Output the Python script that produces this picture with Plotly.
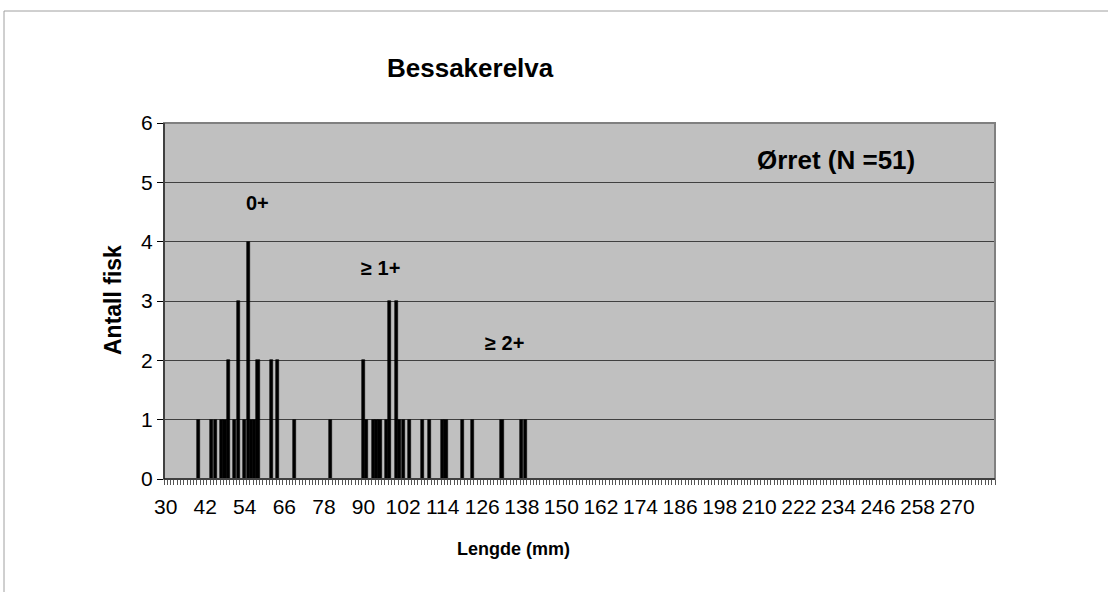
import plotly.graph_objects as go

# Lengths (mm) and number of fish
lengths = [40, 44, 45, 47, 48, 49, 51, 52, 54, 55, 56, 57, 58, 62, 64, 69, 80,
           90, 91, 93, 94, 95, 97, 98, 100, 101, 102, 104, 108, 110, 114, 115,
           120, 123, 132, 138, 139]
counts = [1, 1, 1, 1, 1, 2, 1, 3, 1, 4, 1, 1, 2, 2, 2, 1, 1,
          2, 1, 1, 1, 1, 1, 3, 3, 1, 1, 1, 1, 1, 1, 1,
          1, 1, 1, 1, 1]

x_ticks = list(range(30, 271, 12))
y_ticks = [0, 1, 2, 3, 4, 5, 6]

age_labels = ["0+", "≥ 1+", "≥ 2+"]
age_x = [57.9, 95.2, 132.7]
age_y = [4.65, 3.56, 2.29]

FONT = "Liberation Sans, Arial, sans-serif"

fig = go.Figure()
fig.add_trace(go.Bar(x=lengths, y=counts, width=0.95,
                     marker=dict(color="black", line=dict(width=0.6, color="black")),
                     showlegend=False))

L, R, T, B = 164, 113, 123, 113
W, H = 1108, 592
pw, ph = W - L - R, H - T - B

def px(xp):
    return (xp - L) / pw

def py(yp):
    return (H - B - yp) / ph

annotations = [
    dict(text="<b>Bessakerelva</b>", x=px(470), y=py(68), xref="paper", yref="paper",
         xanchor="center", yanchor="middle",
         showarrow=False, font=dict(size=26, family=FONT, color="black")),
    dict(text="<b>Ørret (N =51)</b>", x=px(836), y=py(160), xref="paper", yref="paper",
         xanchor="center", yanchor="middle",
         showarrow=False, font=dict(size=26, family=FONT, color="black")),
    dict(text="<b>Antall fisk</b>", x=px(113), y=py(300), xref="paper", yref="paper",
         xanchor="center", yanchor="middle",
         textangle=-90, showarrow=False, font=dict(size=23, family=FONT, color="black")),
    dict(text="<b>Lengde (mm)</b>", x=px(513), y=py(549), xref="paper", yref="paper",
         xanchor="center", yanchor="middle",
         showarrow=False, font=dict(size=18, family=FONT, color="black")),
]
for t, xx, yy in zip(age_labels, age_x, age_y):
    annotations.append(dict(text="<b>%s</b>" % t, x=xx, y=yy, xref="x", yref="y",
                            xanchor="center", yanchor="middle",
                            showarrow=False, font=dict(size=20, family=FONT, color="black")))

shapes = [
    dict(type="line", xref="paper", yref="paper", x0=px(4), x1=px(1110), y0=py(11), y1=py(11),
         line=dict(color="#a0a0a0", width=1)),
    dict(type="line", xref="paper", yref="paper", x0=px(4), x1=px(4), y0=py(11), y1=py(600),
         line=dict(color="#a0a0a0", width=1)),
    dict(type="rect", xref="paper", yref="paper", x0=0, x1=1, y0=0, y1=1,
         line=dict(color="#808080", width=2), layer="above"),
    dict(type="line", xref="paper", yref="paper", x0=0, x1=0, y0=0, y1=1,
         line=dict(color="black", width=1), layer="above"),
    dict(type="line", xref="paper", yref="paper", x0=0, x1=1, y0=0, y1=0,
         line=dict(color="black", width=1), layer="above"),
]

fig.update_layout(
    width=W, height=H,
    margin=dict(l=L, r=R, t=T, b=B),
    paper_bgcolor="white",
    plot_bgcolor="#C0C0C0",
    font=dict(family=FONT, size=20, color="black"),
    bargap=0,
    annotations=annotations,
    shapes=shapes,
    xaxis=dict(
        range=[29.5, 281.5],
        tickmode="array", tickvals=x_ticks, ticktext=[str(v) for v in x_ticks],
        ticks="outside", ticklen=9, tickcolor="rgba(0,0,0,0)",
        minor=dict(dtick=1, tick0=29.5, ticks="outside", ticklen=5, tickcolor="#555555", showgrid=False),
        showgrid=False, zeroline=False,
        showline=True, linecolor="black", linewidth=1,
        tickfont=dict(size=21, family=FONT),
    ),
    yaxis=dict(
        range=[0, 6],
        tickmode="array", tickvals=y_ticks,
        ticks="outside", ticklen=6, tickcolor="black",
        showgrid=True, gridcolor="#404040", gridwidth=1,
        zeroline=False,
        showline=True, linecolor="black", linewidth=1,
        tickfont=dict(size=21, family=FONT),
    ),
)

fig.write_html("out.html", config={"displayModeBar": False},
               post_script="document.body.style.margin='0px';")
